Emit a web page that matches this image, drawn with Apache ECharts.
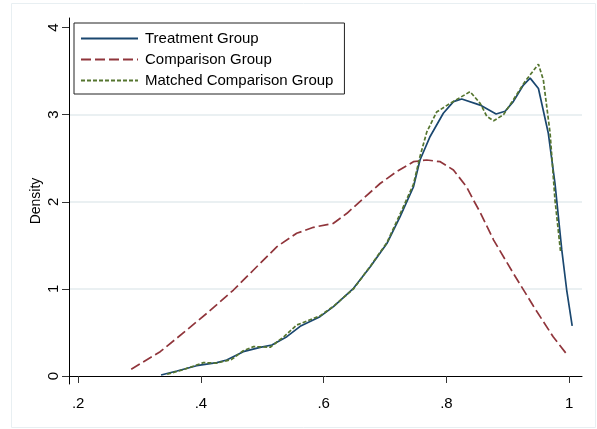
<!DOCTYPE html>
<html>
<head>
<meta charset="utf-8">
<script src="https://cdn.jsdelivr.net/npm/echarts@6/dist/echarts.min.js"></script>
<style>
  html, body { margin: 0; padding: 0; background: #fff; }
  #main { width: 597px; height: 429px; }
</style>
</head>
<body>
<div id="main"></div>
<script>
// kernel density estimates
var treatmentX = [0.335, 0.361, 0.393, 0.426, 0.442, 0.469, 0.4965, 0.5156, 0.540, 0.5617, 0.594, 0.616, 0.6486, 0.676, 0.703, 0.7246, 0.7463, 0.757, 0.7735, 0.795, 0.8115, 0.825, 0.855, 0.881, 0.8957, 0.909, 0.9255, 0.9365, 0.95, 0.966, 0.977, 0.988, 0.996, 1.005];
var treatmentY = [0.011, 0.057, 0.118, 0.153, 0.184, 0.279, 0.329, 0.356, 0.451, 0.570, 0.681, 0.796, 1.007, 1.255, 1.52, 1.83, 2.17, 2.48, 2.75, 3.016, 3.15, 3.18, 3.11, 3.008, 3.04, 3.15, 3.34, 3.42, 3.30, 2.79, 2.21, 1.45, 0.99, 0.574];

var comparisonX = [0.2864, 0.3336, 0.377, 0.4097, 0.453, 0.4857, 0.524, 0.556, 0.5834, 0.616, 0.638, 0.665, 0.692, 0.719, 0.7463, 0.768, 0.79, 0.8115, 0.833, 0.844, 0.855, 0.877, 0.909, 0.942, 0.974, 0.995];
var comparisonY = [0.077, 0.279, 0.528, 0.72, 0.987, 1.217, 1.485, 1.638, 1.707, 1.753, 1.868, 2.04, 2.21, 2.346, 2.46, 2.48, 2.46, 2.365, 2.17, 2.02, 1.88, 1.56, 1.18, 0.80, 0.45, 0.26];

var matchedX = [0.345, 0.37, 0.404, 0.426, 0.45, 0.469, 0.4857, 0.513, 0.535, 0.556, 0.594, 0.616, 0.6486, 0.676, 0.703, 0.7246, 0.7463, 0.757, 0.768, 0.784, 0.806, 0.8387, 0.855, 0.866, 0.877, 0.893, 0.909, 0.928, 0.95, 0.958, 0.969, 0.977, 0.986];
var matchedY = [0.02, 0.07, 0.153, 0.148, 0.19, 0.29, 0.337, 0.33, 0.45, 0.585, 0.69, 0.80, 1.0, 1.26, 1.53, 1.86, 2.2, 2.52, 2.8, 3.03, 3.13, 3.264, 3.13, 2.98, 2.93, 3.0, 3.17, 3.38, 3.58, 3.40, 2.79, 2.02, 1.43];

var xTicks = [0.2, 0.4, 0.6, 0.8, 1];
var yTicks = [0, 1, 2, 3, 4];

var seriesNames = ['Treatment Group', 'Comparison Group', 'Matched Comparison Group'];

function pairs(xs, ys) {
	return xs.map(function(x, i){ return [x, ys[i]]; });
}

var font = 'Liberation Sans, Arial, Helvetica, sans-serif';
var chart = echarts.init(document.getElementById('main'));

var option = {
	animation: false,
	backgroundColor: '#fff',
	graphic: [{
		type: 'rect',
		shape: { x: 11.5, y: 3.5, width: 584, height: 424 },
		style: { fill: 'none', stroke: '#e8eff2', lineWidth: 1 },
		z: -10
	}],
	grid: { left: 69, right: 15, top: 18, bottom: 45 },
	legend: {
		orient: 'vertical',
		left: 74,
		top: 23,
		data: seriesNames,
		itemWidth: 57,
		itemHeight: 14,
		itemGap: 6,
		padding: [8, 11, 6, 6],
		borderColor: '#222',
		borderWidth: 1,
		backgroundColor: '#fff',
		itemStyle: { opacity: 0 },
		textStyle: { fontFamily: font, fontSize: 15, color: '#000', padding: [0, 0, 0, 2] }
	},
	xAxis: {
		type: 'value',
		min: 0.185,
		max: 1.021,
		axisLine: { lineStyle: { color: '#000', width: 1 } },
		axisTick: { show: true, length: 7, customValues: xTicks, lineStyle: { color: '#333' } },
		axisLabel: {
			customValues: xTicks,
			margin: 12,
			fontFamily: font,
			fontSize: 15,
			color: '#000',
			formatter: function(v){ return v === 1 ? '1' : String(v).replace(/^0/, ''); }
		},
		splitLine: { show: false }
	},
	yAxis: {
		type: 'value',
		min: -0.092,
		max: 4.11,
		splitNumber: 5,
		name: 'Density',
		nameLocation: 'middle',
		nameGap: 26,
		nameMoveOverlap: false,
		nameTextStyle: { fontFamily: font, fontSize: 14, color: '#000' },
		axisLine: { show: true, lineStyle: { color: '#000', width: 1 } },
		axisTick: { show: true, length: 7, customValues: yTicks, lineStyle: { color: '#333' } },
		axisLabel: {
			customValues: yTicks,
			rotate: 90,
			margin: 8,
			fontFamily: font,
			fontSize: 15,
			color: '#000'
		},
		splitLine: {
			show: true,
			showMinLine: false,
			showMaxLine: false,
			lineStyle: { color: '#e3ebee', width: 1.5 }
		}
	},
	series: [
		{
			name: seriesNames[0],
			type: 'line',
			data: pairs(treatmentX, treatmentY),
			showSymbol: false,
			symbol: 'none',
			z: 4,
			lineStyle: { color: '#1a476f', width: 1.7, type: 'solid' },
			itemStyle: { color: '#1a476f' }
		},
		{
			name: seriesNames[1],
			type: 'line',
			data: pairs(comparisonX, comparisonY),
			showSymbol: false,
			symbol: 'none',
			z: 3,
			lineStyle: { color: '#90353b', width: 1.7, type: [10, 4] },
			itemStyle: { color: '#90353b' }
		},
		{
			name: seriesNames[2],
			type: 'line',
			data: pairs(matchedX, matchedY),
			showSymbol: false,
			symbol: 'none',
			z: 5,
			lineStyle: { color: '#55752f', width: 1.7, type: [4, 2] },
			itemStyle: { color: '#55752f' }
		}
	]
};
chart.setOption(option, true);
</script>
</body>
</html>
